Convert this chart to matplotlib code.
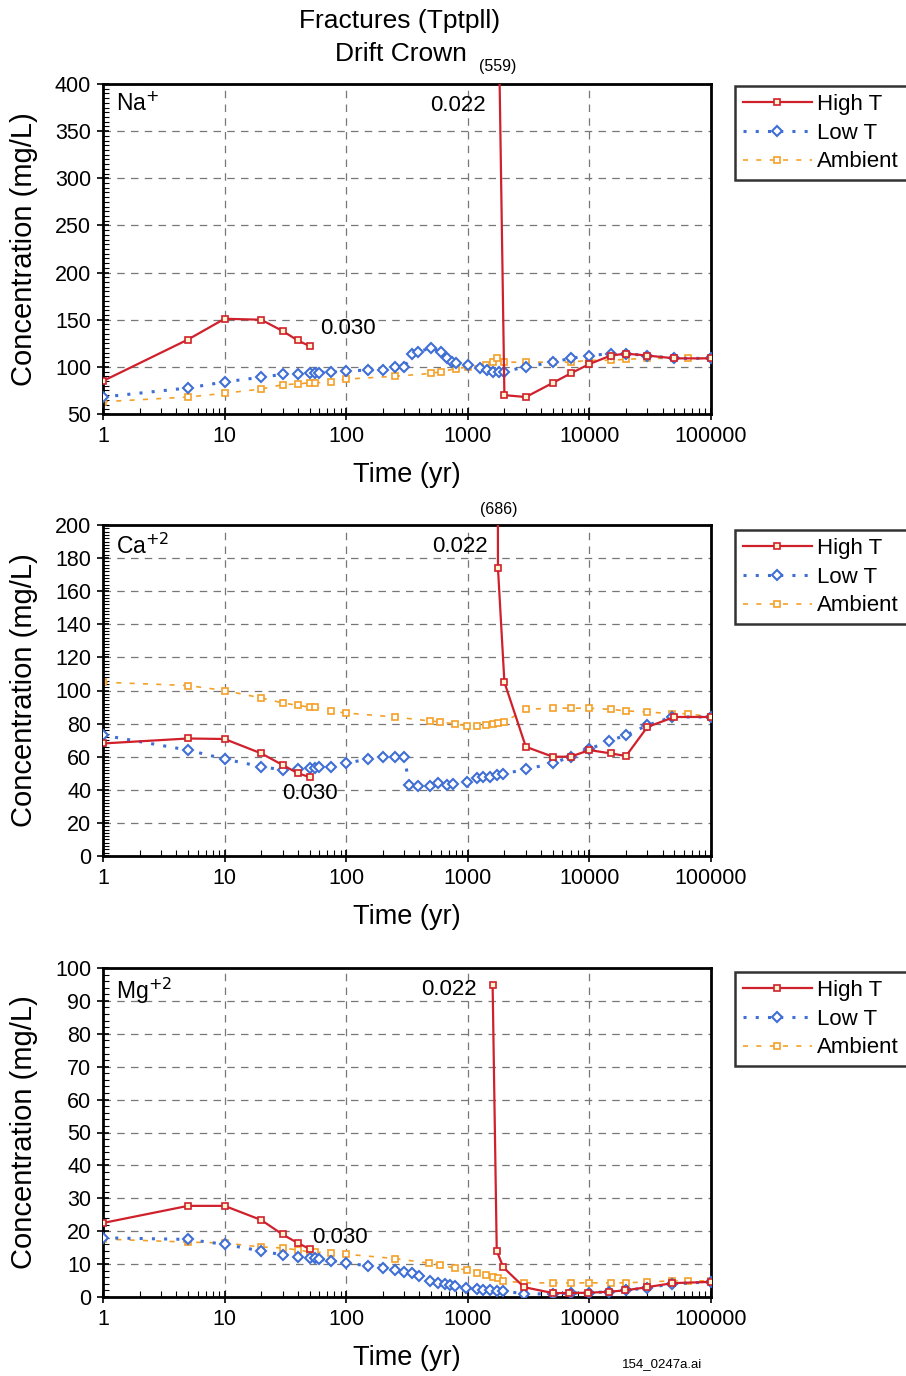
import numpy as np
import matplotlib
matplotlib.use('Agg')
import matplotlib.pyplot as plt
from matplotlib.ticker import FixedLocator, NullFormatter, LogLocator

plt.rcParams['font.family'] = ['Liberation Sans', 'DejaVu Sans']

## data ##
# Na+
na_high_t = [1, 5, 10, 20, 30, 40, 50, np.nan, 1750, 2000, 3000, 5000, 7000, 10000, 15000, 20000, 30000, 50000, 100000]
na_high_c = [85, 129, 151, 150, 138, 128, 122, np.nan, 559, 70, 68, 83, 93, 103, 112, 114, 112, 109, 109]
na_low_t = [1, 5, 10, 20, 30, 40, 50, 55, 60, 75, 100, 150, 200, 250, 300, 350, 390, 500, 600, 670, 740, 800,
            1000, 1250, 1450, 1600, 1800, 2000, 3000, 5000, 7000, 10000, 15000, 20000, 30000, 50000, 100000]
na_low_c = [68, 77.6, 84, 89, 92, 92, 93.5, 94, 94, 94.5, 95.6, 96.6, 97, 100, 100, 113.6, 116, 120, 116, 109, 105, 104,
            102, 99, 97, 95, 95, 95, 100, 105, 109, 112, 114, 114, 112, 109, 109]
na_amb_t = [1, 5, 10, 20, 30, 40, 50, 55, 75, 100, 250, 500, 600, 800, 1000, 1400, 1600, 1750, 2000, 3000, 5000, 7000,
            10000, 15000, 20000, 30000, 65000, 100000]
na_amb_c = [63, 68, 72, 76.5, 81, 82, 83, 83, 84, 87, 90, 93, 95, 98, 100, 102, 105, 109, 105, 105, 105, 105,
            107, 107, 108, 109, 109, 109]

# Ca+2
ca_high_t = [1, 5, 10, 20, 30, 40, 50, np.nan, 1740, 1770, 2000, 3000, 5000, 7000, 10000, 15000, 20000, 30000, 50000, 100000]
ca_high_c = [68, 71, 70.7, 62, 55, 50, 47.7, np.nan, 686, 174, 105, 66, 60, 60, 64, 62, 60.4, 78, 84, 84]
ca_low_t = [1, 5, 10, 20, 30, 40, 50, 55, 60, 75, 100, 150, 200, 250, 300, 330, 390, 490, 570, 670, 750, 980, 1200,
            1330, 1530, 1730, 1960, 3000, 5000, 7000, 10000, 14500, 20000, 30000, 48000, 100000]
ca_low_c = [73, 64, 58.6, 54, 52, 52.5, 53, 53, 53.5, 54, 56, 58.6, 60, 60, 60, 43, 42.5, 42.5, 44, 43, 43.5, 45, 47,
            48, 48, 49, 49.6, 52.4, 56, 60, 64.6, 69.5, 73, 79, 84, 84]
ca_amb_t = [1, 5, 10, 20, 30, 40, 50, 55, 75, 100, 250, 490, 590, 780, 980, 1200, 1400, 1600, 1770, 2000, 3000, 5000,
            7000, 10000, 15000, 20000, 30000, 48000, 65000, 100000]
ca_amb_c = [105, 103, 100, 95.5, 92.5, 91, 90, 90, 87.6, 86.4, 84, 81.6, 81, 79.8, 78.7, 78.7, 79, 79.8, 80.5, 81, 88.6, 89.3,
            89.3, 89.3, 88.6, 87.7, 87, 86, 86, 84]

# Mg+2
mg_high_t = [1, 5, 10, 20, 30, 40, 50, np.nan, 1600, 1730, 1960, 2900, 5000, 6800, 9800, 14500, 19500, 30000, 48000, 100000]
mg_high_c = [22.5, 27.7, 27.7, 23.4, 19, 16.4, 14.6, np.nan, 94.8, 14, 9, 3, 1.2, 1.2, 1.3, 1.6, 2, 3, 4.2, 4.6]
mg_low_t = [1, 5, 10, 20, 30, 40, 50, 55, 60, 75, 100, 150, 200, 250, 300, 350, 400, 490, 570, 650, 720, 780, 960,
            1200, 1330, 1530, 1730, 1960, 2900, 5000, 7000, 10000, 14500, 20000, 30000, 48000, 100000]
mg_low_c = [18, 17.5, 16, 14, 12.8, 12.2, 11.9, 11.8, 11.5, 11, 10.3, 9.5, 8.8, 8.2, 7.6, 7.2, 6.4, 5, 4.2, 4, 3.6, 3.3, 2.7,
            2.4, 2.1, 2, 1.8, 1.8, 1, 0.9, 1.2, 1.3, 1.6, 2, 2.8, 4, 4.6]
mg_amb_t = [1, 5, 10, 20, 30, 40, 50, 55, 75, 100, 250, 480, 590, 780, 980, 1200, 1400, 1600, 1770, 1960, 2900, 5000,
            7000, 10000, 15000, 20000, 30000, 48000, 65000, 100000]
mg_amb_c = [17.6, 16.7, 16.4, 15.2, 14.9, 14.3, 13.7, 13.6, 13.4, 13, 11.7, 10.3, 9.7, 8.8, 8.2, 7.3, 6.7, 6.1, 5.8, 4.9, 4.3, 4.3,
            4.3, 4.3, 4.3, 4.3, 4.6, 4.9, 4.9, 4.9]

panels = [
    ('Na$^{+}$', na_high_t, na_high_c, na_low_t, na_low_c, na_amb_t, na_amb_c, (50, 400), 50, 10),
    ('Ca$^{+2}$', ca_high_t, ca_high_c, ca_low_t, ca_low_c, ca_amb_t, ca_amb_c, (0, 200), 20, 10),
    ('Mg$^{+2}$', mg_high_t, mg_high_c, mg_low_t, mg_low_c, mg_amb_t, mg_amb_c, (0, 100), 10, 5),
]

RED = '#d0202c'
BLUE = '#3f6fd6'
ORANGE = '#f4a028'

W, H = 906, 1376
fig = plt.figure(figsize=(W / 100, H / 100), dpi=100)

# axes placement in pixels: top, bottom of each plot box
boxes = [(84, 414), (525, 856), (968, 1297)]
legend_tops = [86, 530, 972]
left_px, right_px = 103, 711

# annotation positions (fraction of axes)
ann_030 = [(0.357, 0.26), (0.294, 0.19), (0.344, 0.18)]
ann_022 = [(0.63, 0.935), (0.632, 0.935), (0.615, 0.935)]

for i, (name, ht, hc, lt, lc, at, ac, ylim, ystep, nminor) in enumerate(panels):
    top, bot = boxes[i]
    ax = fig.add_axes([left_px / W, 1 - bot / H, (right_px - left_px) / W, (bot - top) / H])
    ax.set_xscale('log')
    ax.set_xlim(1, 100000)
    ax.set_ylim(*ylim)

    ax.plot(ht, hc, color=RED, lw=1.6, marker='s', ms=5, mfc='#fff6d0', mec=RED, mew=1.2, label='High T', zorder=4)
    ax.plot(lt, lc, color=BLUE, lw=2.2, ls=(0, (1, 3)), marker='D', ms=5.5, mfc='white', mec=BLUE, mew=1.5,
            label='Low T', zorder=3)
    ax.plot(at, ac, color=ORANGE, lw=1.2, ls=(0, (3, 5)), marker='s', ms=5, mfc='white', mec=ORANGE, mew=1.2,
            label='Ambient', zorder=2)

    ax.set_yticks(np.arange(ylim[0], ylim[1] + 1, ystep))
    ax.yaxis.set_minor_locator(FixedLocator(np.arange(ylim[0], ylim[1] + 1, ystep / nminor)))
    ax.xaxis.set_major_locator(FixedLocator([1, 10, 100, 1000, 10000, 100000]))
    ax.set_xticklabels(['1', '10', '100', '1000', '10000', '100000'])
    ax.xaxis.set_minor_locator(LogLocator(base=10, subs=np.arange(2, 10)))
    ax.xaxis.set_minor_formatter(NullFormatter())
    ax.tick_params(which='major', direction='inout', length=9, width=1.2, labelsize=15.5, pad=4)
    ax.tick_params(which='minor', direction='in', length=4, width=0.8)

    ax.grid(True, which='major', color='#777777', ls=(0, (6, 5)), lw=0.9)
    for s in ax.spines.values():
        s.set_linewidth(2)

    ax.set_xlabel('Time (yr)', fontsize=19.5, labelpad=11)
    ax.set_ylabel('Concentration (mg/L)', fontsize=21, labelpad=12)

    ax.text(0.022, 0.975, name, transform=ax.transAxes, fontsize=16.5, va='top', ha='left')
    ax.text(ann_030[i][0], ann_030[i][1], '0.030', transform=ax.transAxes, fontsize=16, ha='left', va='center')
    ax.text(ann_022[i][0], ann_022[i][1], '0.022', transform=ax.transAxes, fontsize=16, ha='right', va='center')
    if i == 1:
        ax.text(499 / W, 1 - 509 / H, '(686)', transform=fig.transFigure, fontsize=11.5, ha='center', va='center')

    leg = ax.legend(loc='upper left', bbox_to_anchor=(735 / W, 1 - legend_tops[i] / H), bbox_transform=fig.transFigure,
                    fontsize=16, frameon=True, fancybox=False, handlelength=3.1, borderpad=0.35,
                    labelspacing=0.35, handletextpad=0.25, borderaxespad=0)
    leg.get_frame().set_edgecolor('black')
    leg.get_frame().set_linewidth(1.8)

fig.text(400 / W, 1 - 21 / H, 'Fractures (Tptpll)', fontsize=19, ha='center', va='center')
fig.text(401 / W, 1 - 54 / H, 'Drift Crown', fontsize=19, ha='center', va='center')
fig.text(498 / W, 1 - 67 / H, '(559)', fontsize=11.5, ha='center', va='center')
fig.text(662 / W, 1 - 1364 / H, '154_0247a.ai', fontsize=9.5, ha='center', va='center')

fig.savefig('out.png', dpi=100)
